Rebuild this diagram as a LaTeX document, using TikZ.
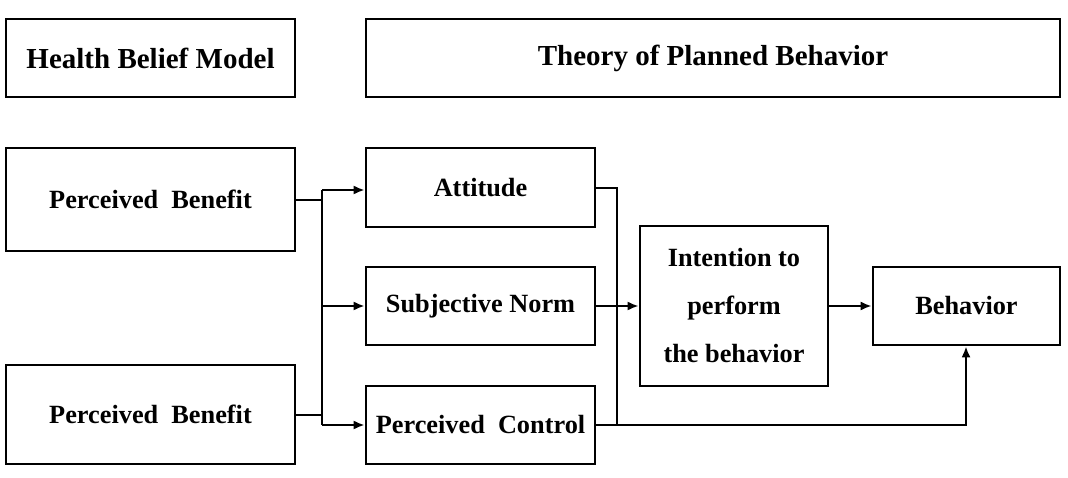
\documentclass[tikz,border=0pt]{standalone}
\usepackage{fontspec}
\setmainfont{Liberation Serif}
\usetikzlibrary{arrows.meta}
\begin{document}
\begin{tikzpicture}[x=1pt,y=-1pt,
  box/.style={draw, line width=2.6pt, inner sep=0pt, font=\bfseries\fontsize{26.3}{48}\selectfont, align=center},
  titlebox/.style={box, font=\bfseries\fontsize{29}{34}\selectfont},
  conn/.style={line width=2.4pt},
  arr/.style={conn, -{Latex[length=11pt,width=9pt]}}]
\useasboundingbox (0,0) rectangle (1068,478);
\node[titlebox, minimum width=289pt, minimum height=78pt] (hbm) at (150.5,58) {Health Belief Model};
\node[titlebox, minimum width=694pt, minimum height=78pt] (tpb) at (713,58) {Theory of Planned Behavior};
\node[box, minimum width=289pt, minimum height=103pt] (pb1) at (150.5,199.5) {Perceived\ \ Benefit};
\node[box, minimum width=289pt, minimum height=99pt] (pb2) at (150.5,414.5) {Perceived\ \ Benefit};
\node[box, minimum width=229pt, minimum height=79pt] (att) at (480.5,187.5) {Attitude};
\node[box, minimum width=229pt, minimum height=78pt] (sn) at (480.5,306) {Subjective Norm};
\node[box, minimum width=229pt, minimum height=78pt] (pc) at (480.5,425) {Perceived\ \ Control};
\node[box, minimum width=188pt, minimum height=160pt] (int) at (734,306) {Intention to\\perform\\the behavior};
\node[box, minimum width=187pt, minimum height=78pt] (beh) at (966.5,306) {Behavior};
\coordinate (b1) at (322,190);
\coordinate (b2) at (322,306);
\coordinate (b3) at (322,425);
\coordinate (a1) at (322,200);
\coordinate (a2) at (322,415);
\coordinate (c1) at (617,188);
\coordinate (c2) at (617,425);
\coordinate (d1) at (966,425);
\draw[conn] (pb1.east |- a1) -- (a1);
\draw[conn] (pb2.east |- a2) -- (a2);
\draw[conn] (b1) -- (b3);
\draw[arr] (b1) -- (att.west |- b1);
\draw[arr] (b2) -- (sn.west);
\draw[arr] (b3) -- (pc.west);
\draw[conn] (att.east |- c1) -- (c1) -- (c2);
\draw[arr] (sn.east) -- (int.west);
\draw[arr] (pc.east) -- (d1) -- (beh.south -| d1);
\draw[arr] (int.east) -- (beh.west);
\end{tikzpicture}
\end{document}
